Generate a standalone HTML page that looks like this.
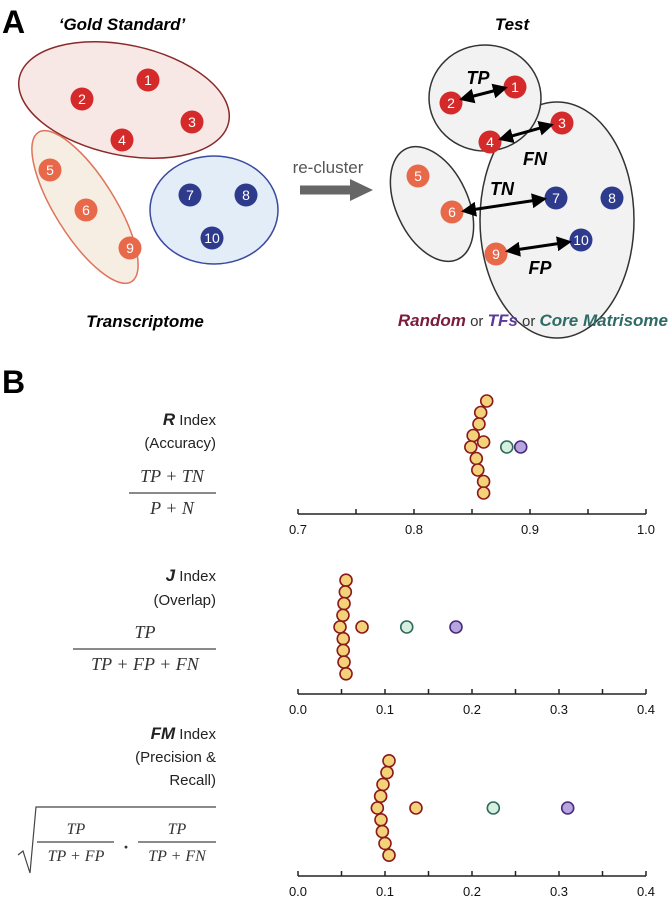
<!DOCTYPE html>
<html><head><meta charset="utf-8"><style>
html,body{margin:0;padding:0;background:#fff}
svg{display:block}
.sans{font-family:"Liberation Sans",Arial,sans-serif}
.math{font-family:"Liberation Serif",serif;font-style:italic;font-size:18px;fill:#333}
</style></head><body>
<svg id="fig" width="669" height="899" viewBox="0 0 669 899" xmlns="http://www.w3.org/2000/svg" class="sans">
<defs>
<marker id="ah" viewBox="0 0 10 10" refX="8" refY="5" markerWidth="5" markerHeight="5" orient="auto-start-reverse"><path d="M0,0L10,5L0,10z" fill="#000"/></marker>
</defs>
<g>
<text x="2" y="33" font-size="32" font-weight="bold">A</text>
<text x="122" y="30" font-size="17" font-weight="bold" font-style="italic" text-anchor="middle">‘Gold Standard’</text>
<ellipse cx="124" cy="100" rx="107" ry="55" transform="rotate(12 124 100)" fill="#f8e8e5" stroke="#8a2a2a" stroke-width="1.5"/>
<ellipse cx="85" cy="207" rx="88" ry="30" transform="rotate(58 85 207)" fill="#f6eee2" stroke="#e0735a" stroke-width="1.5"/>
<ellipse cx="214" cy="210" rx="64" ry="54" fill="#e2edf7" stroke="#3a4aa0" stroke-width="1.5"/>
<text x="328" y="173" font-size="17" fill="#555" text-anchor="middle">re-cluster</text>
<path d="M300,190H352" stroke="#666" stroke-width="9"/>
<path d="M350,179L373,190L350,201z" fill="#666"/>
<text x="512" y="30" font-size="17" font-weight="bold" font-style="italic" text-anchor="middle">Test</text>
<ellipse cx="557" cy="220" rx="77" ry="118" fill="#f2f2f2" stroke="#333" stroke-width="1.5"/>
<ellipse cx="485" cy="98" rx="56" ry="53" fill="#f2f2f2" stroke="#333" stroke-width="1.5"/>
<ellipse cx="432" cy="204" rx="36" ry="61" transform="rotate(-25 432 204)" fill="#f2f2f2" stroke="#333" stroke-width="1.5"/>
<g id="nodes"></g>
<g stroke="#000" stroke-width="3" marker-start="url(#ah)" marker-end="url(#ah)">
<line x1="462" y1="99" x2="505" y2="88"/><line x1="501" y1="139" x2="551" y2="125"/>
<line x1="464" y1="211" x2="544" y2="199"/><line x1="508" y1="251" x2="569" y2="242"/>
</g>
<g font-size="18" font-weight="bold" font-style="italic" text-anchor="middle">
<text x="478" y="84">TP</text>
<text x="535" y="165">FN</text>
<text x="502" y="195">TN</text>
<text x="540" y="274">FP</text>
</g>
<text x="145" y="327" font-size="17" font-weight="bold" font-style="italic" text-anchor="middle">Transcriptome</text>
<text x="668" y="326" font-size="17" font-weight="bold" font-style="italic" text-anchor="end"><tspan fill="#7a1d3d">Random</tspan><tspan font-weight="normal" font-style="normal" fill="#333" font-size="15"> or </tspan><tspan fill="#5a3a9a">TFs</tspan><tspan font-weight="normal" font-style="normal" fill="#333" font-size="15"> or </tspan><tspan fill="#2e6b65">Core Matrisome</tspan></text>
</g>
<g>
<text x="2" y="393" font-size="32" font-weight="bold">B</text>
<g text-anchor="end" font-size="15" fill="#222">
<text x="216" y="425"><tspan font-weight="bold" font-style="italic" font-size="17">R</tspan> Index</text>
<text x="216" y="448">(Accuracy)</text>
<text x="216" y="581"><tspan font-weight="bold" font-style="italic" font-size="17">J</tspan> Index</text>
<text x="216" y="605">(Overlap)</text>
<text x="216" y="739"><tspan font-weight="bold" font-style="italic" font-size="17">FM</tspan> Index</text>
<text x="216" y="762">(Precision &amp;</text>
<text x="216" y="785">Recall)</text>
</g>
<g class="math" text-anchor="middle">
<text x="172" y="482">TP + TN</text><line x1="129" y1="493" x2="216" y2="493" stroke="#444" stroke-width="1.2"/><text x="172" y="514">P + N</text>
<text x="145" y="638">TP</text><line x1="73" y1="649" x2="216" y2="649" stroke="#444" stroke-width="1.2"/><text x="145" y="670">TP + FP + FN</text>
<path d="M18,855L23,851L30,873L36,807H216" fill="none" stroke="#444" stroke-width="1.2"/>
<text x="76" y="834" font-size="16">TP</text><line x1="37" y1="842" x2="114" y2="842" stroke="#444" stroke-width="1.2"/><text x="76" y="861" font-size="16">TP + FP</text>
<text x="126" y="853" font-style="normal" font-weight="bold">·</text>
<text x="177" y="834" font-size="16">TP</text><line x1="138" y1="842" x2="216" y2="842" stroke="#444" stroke-width="1.2"/><text x="177" y="861" font-size="16">TP + FN</text>
</g>
<g id="charts"></g>
</g>
</svg>
<script>
// chart data
const rYellow = [0.8627,0.8575,0.856,0.851,0.849,0.8537,0.855,0.860,0.860];
const rExtra = [0.860];
const rGreen = 0.880, rPurple = 0.892;
const jYellow = [0.0552,0.0544,0.0529,0.0517,0.0483,0.052,0.052,0.0529,0.0552];
const jExtra = [0.0736];
const jGreen = 0.125, jPurple = 0.1816;
const fmYellow = [0.1046,0.1023,0.0977,0.095,0.0912,0.0954,0.097,0.100,0.1046];
const fmExtra = [0.1356];
const fmGreen = 0.2245, fmPurple = 0.310;
const rTicks = ["0.7","0.8","0.9","1.0"];
const jTicks = ["0.0","0.1","0.2","0.3","0.4"];
const fmTicks = ["0.0","0.1","0.2","0.3","0.4"];

const NS="http://www.w3.org/2000/svg";
function mk(tag,attrs,parent){const e=document.createElementNS(NS,tag);for(const k in attrs)e.setAttribute(k,attrs[k]);parent.appendChild(e);return e;}

const nodesG=document.getElementById('nodes');
const nodeList=[["1",148,80,"#d42a2a"],["2",82,99,"#d42a2a"],["3",192,122,"#d42a2a"],["4",122,140,"#d42a2a"],
["5",50,170,"#e8684a"],["6",86,210,"#e8684a"],["9",130,248,"#e8684a"],["7",190,195,"#2e3a8c"],["8",246,195,"#2e3a8c"],["10",212,238,"#2e3a8c"],
["1",515,87,"#d42a2a"],["2",451,103,"#d42a2a"],["3",562,123,"#d42a2a"],["4",490,142,"#d42a2a"],["5",418,176,"#e8684a"],["6",452,212,"#e8684a"],
["7",556,198,"#2e3a8c"],["8",612,198,"#2e3a8c"],["9",496,254,"#e8684a"],["10",581,240,"#2e3a8c"]];
nodeList.forEach(n=>{
 const c=mk('circle',{cx:n[1],cy:n[2],r:11.5,fill:n[3]},nodesG);
 
 
 const t=mk('text',{x:n[1],y:n[2]+5,'font-size':14,fill:'#fff','text-anchor':'middle'},nodesG);
 t.textContent=n[0];
});

const charts=document.getElementById('charts');
function chart(name,axisY,min,max,ticks,yellow,extra,green,purple,cy,step){
 const g=mk('g',{},charts);
 
 
 const x0=298,x1=646;
 const sx=v=>x0+(v-min)/(max-min)*(x1-x0);
 const ax=mk('line',{x1:x0,y1:axisY,x2:x1,y2:axisY,stroke:'#222','stroke-width':1.5},g);
 
 
 const n=ticks.length;
 for(let i=0;i<=2*(n-1);i++){
  const v=min+i*(max-min)/(2*(n-1));
  mk('line',{x1:sx(v),y1:axisY,x2:sx(v),y2:axisY-5,stroke:'#222','stroke-width':1.5},g);
 }
 ticks.forEach(t=>{
  const tx=mk('text',{x:sx(parseFloat(t)),y:axisY+20,'font-size':13,'text-anchor':'middle',fill:'#111'},g);
  tx.textContent=t;
  
  
 });
 const dot=(v,y,f,s,nm)=>{const c=mk('circle',{cx:sx(v),cy:y,r:6,fill:f,stroke:s,'stroke-width':1.6},g);
  
  };
 yellow.forEach((v,i)=>dot(v,cy+(i-4)*step,'#f3d27a','#8b1a1a','random-point'));
 extra.forEach((v,i)=>dot(v,cy-(name==='r-index-chart'?5:0),'#f3d27a','#8b1a1a','random-point'));
 dot(green,cy,'#d6efdf','#2e6b5a','core-matrisome-point');
 dot(purple,cy,'#b7a5e0','#4a2a7a','tfs-point');
}
chart('r-index-chart',514,0.7,1.0,rTicks,rYellow,rExtra,rGreen,rPurple,447,11.5);
chart('j-index-chart',694,0,0.4,jTicks,jYellow,jExtra,jGreen,jPurple,627,11.7);
chart('fm-index-chart',876,0,0.4,fmTicks,fmYellow,fmExtra,fmGreen,fmPurple,808,11.8);
</script>
</body></html>
